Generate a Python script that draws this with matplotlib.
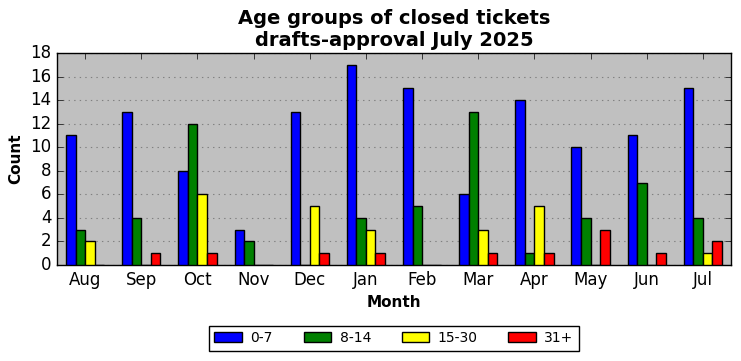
import numpy as np
import matplotlib.pyplot as plt

# data
months = ['Aug', 'Sep', 'Oct', 'Nov', 'Dec', 'Jan', 'Feb', 'Mar', 'Apr', 'May', 'Jun', 'Jul']
age_0_7 = [11, 13, 8, 3, 13, 17, 15, 6, 14, 10, 11, 15]
age_8_14 = [3, 4, 12, 2, 0, 4, 5, 13, 1, 4, 7, 4]
age_15_30 = [2, 0, 6, 0, 5, 3, 0, 3, 5, 0, 0, 1]
age_31 = [0, 1, 1, 0, 1, 1, 0, 1, 1, 3, 1, 2]

groups = ['0-7', '8-14', '15-30', '31+']
colors = ['blue', 'green', 'yellow', 'red']

plt.style.use('classic')
fig = plt.figure(figsize=(7.41, 3.61), dpi=100)
ax = fig.add_axes([0.077, 0.266, 0.9095, 0.587])
ax.set_facecolor('#c0c0c0')

x = np.arange(len(months))
w = 0.17
series = [age_0_7, age_8_14, age_15_30, age_31]
for i, (vals, lab, col) in enumerate(zip(series, groups, colors)):
    ax.bar(x + (i - 1.5) * w, vals, width=w, color=col, edgecolor='black',
           linewidth=1, label=lab, align='center', zorder=3)

ax.set_xlim(-0.5, len(months) - 0.5)
ax.set_ylim(0, 18)
ax.set_yticks(range(0, 19, 2))
ax.set_xticks(x)
ax.set_xticklabels(months)
ax.tick_params(labelsize=12)
ax.yaxis.grid(True, linestyle=':', color='gray', linewidth=0.8, zorder=0)
ax.set_axisbelow(True)

ax.set_title('Age groups of closed tickets\ndrafts-approval July 2025',
             fontsize=14, fontweight='bold')
ax.set_xlabel('Month', fontsize=11, fontweight='bold')
ax.set_ylabel('Count', fontsize=11, fontweight='bold')

# legend centred under the axes
ax.legend(loc='center', bbox_to_anchor=(0.5, -0.345), ncol=4, fontsize=10,
          frameon=True, fancybox=False, handlelength=2.0, handletextpad=0.6,
          columnspacing=2.2)

fig.savefig('out.png', dpi=100, facecolor='white')
